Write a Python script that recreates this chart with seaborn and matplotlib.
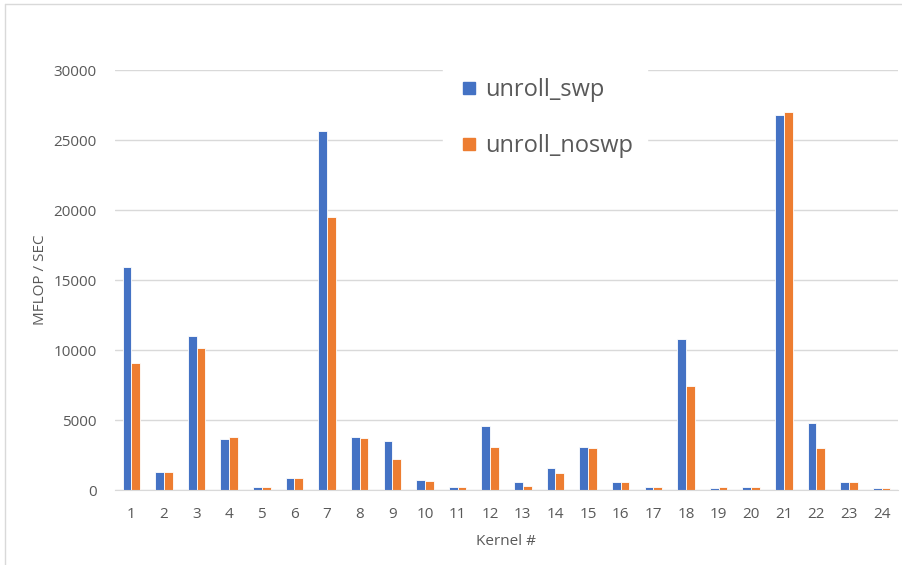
import pandas as pd
import matplotlib
matplotlib.use("Agg")
import matplotlib.pyplot as plt
import seaborn as sns
from matplotlib.lines import Line2D

# =========================
# Data
# =========================

kernels = [str(k) for k in range(1, 25)]
unroll_swp = [15950, 1300, 11000, 3640, 240, 880, 25620, 3810, 3480, 690, 240, 4550,
              590, 1550, 3070, 590, 240, 10790, 170, 240, 26810, 4760, 590, 110]
unroll_noswp = [9070, 1300, 10120, 3760, 240, 880, 19500, 3690, 2210, 640, 240, 3070,
                310, 1210, 3020, 590, 240, 7430, 240, 240, 26980, 3020, 590, 110]
series_names = ["unroll_swp", "unroll_noswp"]
colors = ["#4472C4", "#ED7D31"]

df = pd.DataFrame({
    "Kernel": kernels * 2,
    "MFLOP": unroll_swp + unroll_noswp,
    "Series": [series_names[0]] * len(kernels) + [series_names[1]] * len(kernels),
})

# =========================
# Plot
# =========================

sns.set_style("white")
plt.rcParams["font.family"] = ["Open Sans", "DejaVu Sans"]
text_color = "#595959"

fig = plt.figure(figsize=(9.02, 5.65), dpi=100)
ax = fig.add_axes([115 / 902, 1 - 490 / 565, (898 - 115) / 902, 420 / 565])

sns.barplot(data=df, x="Kernel", y="MFLOP", hue="Series", palette=colors,
            width=0.54, edgecolor="white", linewidth=0.6, saturation=1,
            legend=False, ax=ax)

ax.set_ylim(0, 30000)
ax.set_yticks(range(0, 30001, 5000))
ax.yaxis.grid(True, color="#D9D9D9", linewidth=1)
ax.set_axisbelow(True)
for s in ["top", "right", "left"]:
    ax.spines[s].set_visible(False)
ax.spines["bottom"].set_color("#D9D9D9")
ax.tick_params(axis="both", length=0, labelsize=11, labelcolor=text_color)
ax.tick_params(axis="y", pad=13)
ax.tick_params(axis="x", pad=12)

ax.set_xlabel("Kernel #", fontsize=11, color=text_color, labelpad=9)
ax.set_ylabel("MFLOP / SEC", fontsize=11, color=text_color, labelpad=4)

handles = [Line2D([], [], marker="s", linestyle="", markersize=8,
                  color=c) for c in colors]
leg = fig.legend(handles, series_names, loc="upper left",
                 bbox_to_anchor=(431 / 902, 1 - 52 / 565), frameon=True,
                 fontsize=17, labelspacing=1.35, handletextpad=0.2,
                 borderpad=0.6, handlelength=1.0)
leg.get_frame().set_edgecolor("white")
leg.get_frame().set_facecolor("white")
leg.get_frame().set_alpha(1)
for t in leg.get_texts():
    t.set_color(text_color)

# light border of the chart area
fig.add_artist(Line2D([5 / 902, 1], [1 - 4 / 565, 1 - 4 / 565],
                      color="#D9D9D9", linewidth=1))
fig.add_artist(Line2D([5 / 902, 5 / 902], [0, 1 - 4 / 565],
                      color="#D9D9D9", linewidth=1))

plt.savefig("out.png", dpi=100)
